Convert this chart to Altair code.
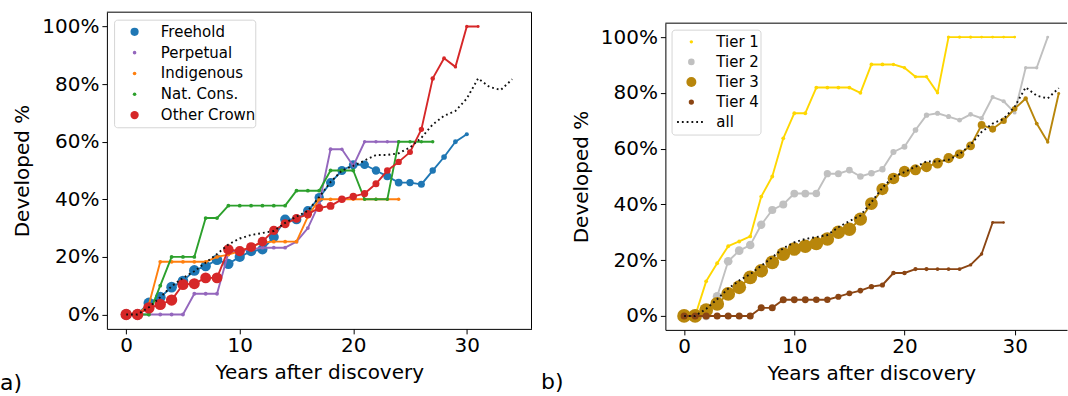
import altair as alt
import pandas as pd

# ---------------- data ----------------
LEFT_SERIES = ["Freehold", "Perpetual", "Indigenous", "Nat. Cons.", "Other Crown"]
RIGHT_SERIES = ["Tier 1", "Tier 2", "Tier 3", "Tier 4"]
ALL_LABEL = "all"
PANEL_LABELS = ["a)", "b)"]
X_TITLE = "Years after discovery"
Y_TITLE = "Developed %"
X_TICKS = [0, 10, 20, 30]
Y_TICKS = [0, 20, 40, 60, 80, 100]

# first year of each series, developed share (%), number of fields (marker size)
FREEHOLD_START = 0
FREEHOLD_PCT = [0, 0, 4, 6, 9.5, 11.6, 15.3, 16.8, 19, 17.6, 20, 22, 22.6, 26.9, 33, 33, 36,
                40.6, 45.8, 50, 52, 52, 50, 48, 45.8, 45.8, 45.2, 50, 54.7, 60, 62.6]
FREEHOLD_N = [40, 40, 40, 40, 39, 39, 39, 38, 38, 37, 36, 36, 35, 35, 34, 33, 32, 30, 29, 28,
              27, 26, 24, 22, 21, 19, 17, 14, 11, 8, 6]

PERPETUAL_START = 1
PERPETUAL_PCT = [0, 0, 0, 0, 0, 7.2, 7.2, 7.2, 21.4, 22.2, 22.6, 23.2, 23.2, 23.2, 25.3, 30,
                 38.5, 57.4, 57.4, 51.6, 60, 60, 60, 60]
PERPETUAL_N = [5, 5, 5, 5, 5, 5, 5, 5, 5, 5, 5, 5, 5, 5, 5, 5, 5, 5, 4, 4, 4, 4, 4, 4]

INDIGENOUS_START = 1
INDIGENOUS_PCT = [0, 3.5, 18.3, 18.3, 18.3, 18.3, 18.3, 20, 20.8, 22, 23.5, 25, 25.3, 25.3,
                  25.3, 34, 40, 40, 40, 40, 40, 40, 40, 40]
INDIGENOUS_N = [5, 5, 5, 5, 5, 5, 5, 5, 5, 5, 5, 5, 5, 5, 5, 5, 5, 5, 4, 4, 4, 4, 4, 4]

NATCONS_START = 1
NATCONS_PCT = [0, 0, 10, 20, 20, 20, 33.5, 33.5, 37.8, 37.8, 37.8, 37.8, 37.8, 37.8, 43, 43,
               43, 50, 50, 50, 40, 40, 40, 60, 60, 60, 60]
NATCONS_N = [5, 5, 5, 5, 5, 5, 5, 5, 5, 5, 5, 5, 5, 5, 5, 5, 5, 5, 5, 5, 4, 4, 4, 4, 4, 4, 4]

OTHER_START = 0
OTHER_PCT = [0, 0, 2.3, 3.5, 5, 10.4, 10.7, 12.7, 12.7, 22.6, 22, 23.4, 25.3, 29.2, 31.5, 33.4,
             34.8, 37, 37.7, 40, 41, 42, 45.4, 50, 53, 56.4, 64.3, 82, 89, 86, 100, 100]
OTHER_N = [45, 45, 45, 44, 44, 43, 42, 41, 40, 38, 36, 34, 32, 30, 28, 26, 24, 22, 21, 20, 19,
           18, 17, 15, 14, 12, 10, 7, 5, 4, 4, 3]

TIER1_START = 0
TIER1_PCT = [0, 0, 12.4, 18.9, 25, 26.7, 28.5, 42.8, 50, 63.7, 72.7, 72.7, 81.9, 81.9, 81.9,
             81.9, 80, 90.2, 90.2, 90.2, 89, 85.8, 85.8, 80, 100, 100, 100, 100, 100, 100, 100]
TIER1_N = [5, 5, 5, 5, 5, 5, 5, 5, 5, 5, 5, 5, 5, 5, 5, 5, 5, 5, 5, 4, 4, 4, 4, 4, 4, 4, 4,
           3, 3, 3, 3]

TIER2_START = 0
TIER2_PCT = [0, 0, 0, 7, 19.6, 23.4, 25.4, 32.7, 38, 40, 43.9, 43.9, 43.9, 51, 51, 52.3, 50,
             51.2, 52.6, 58.8, 60.7, 66.7, 72, 72.7, 71.5, 70.2, 72.3, 70.9, 78.5, 77, 72.9,
             89, 89, 100]
TIER2_N = [27, 27, 27, 27, 26, 26, 25, 24, 23, 22, 21, 21, 20, 18, 17, 16, 15, 15, 14, 13, 12,
           11, 10, 9, 9, 8, 8, 7, 6, 6, 5, 4, 4, 3]

TIER3_START = 0
TIER3_PCT = [0, 0, 2.1, 4.3, 7.9, 10.3, 13.8, 16.2, 19.2, 22.2, 24, 25, 26, 27.6, 30, 31.1,
             34.7, 40.3, 45.5, 49.3, 51.8, 52.4, 53.5, 54.8, 56.6, 58, 61, 68.5, 67, 70, 74.3,
             78, 69, 62.4, 79.8]
TIER3_N = [66, 66, 66, 66, 66, 66, 66, 65, 65, 65, 65, 64, 64, 64, 63, 63, 60, 56, 51, 47, 44,
           42, 40, 39, 36, 32, 27, 21, 17, 14, 11, 7, 5, 4, 3]

TIER4_START = 0
TIER4_PCT = [0, 0, 0, 0, 0, 0, 0, 2.9, 2.9, 5.8, 5.8, 5.8, 5.8, 5.8, 6.9, 8.1, 9.1, 10.5,
             11.1, 15.4, 15.4, 16.8, 16.8, 16.8, 16.8, 16.8, 18.3, 22.2, 33.5, 33.5]
TIER4_N = [17, 17, 17, 17, 17, 17, 17, 17, 17, 17, 16, 16, 15, 14, 13, 12, 11, 10, 9, 7, 7, 6,
           6, 5, 5, 5, 4, 4, 3, 2]

ALL_START = 0
ALL_PCT = [0, 0, 2.5, 6, 9.8, 12.7, 15, 18, 21, 24.3, 26.4, 27.6, 28.3, 29, 31.8, 34, 36,
           40.8, 46, 50, 51.6, 53.5, 55.4, 55.4, 56, 58, 61.4, 66, 69, 70.7, 75, 82, 79, 78,
           81.7]

# ---------------- styles ----------------
COLORS = {
    "Freehold": "#1f77b4", "Perpetual": "#9467bd", "Indigenous": "#ff7f0e",
    "Nat. Cons.": "#2ca02c", "Other Crown": "#d62728",
    "Tier 1": "#FFD700", "Tier 2": "#C0C0C0", "Tier 3": "#B8860B", "Tier 4": "#8B4513",
}
FONT = "DejaVu Sans"
SIZE_DOMAIN = [0, 100]
SIZE_RANGE = [0, 290]
SIZE_SCALE = alt.Scale(type="linear", domain=SIZE_DOMAIN, range=SIZE_RANGE, zero=True)
LINE_W = 1.9


def frame(start, pct, n=None):
    d = {"year": list(range(start, start + len(pct))), "pct": pct}
    if n is not None:
        d["n"] = n
    return pd.DataFrame(d)


ONE = pd.DataFrame({"k": [0]})

LEFT_DATA = [
    ("Freehold", frame(FREEHOLD_START, FREEHOLD_PCT, FREEHOLD_N)),
    ("Perpetual", frame(PERPETUAL_START, PERPETUAL_PCT, PERPETUAL_N)),
    ("Indigenous", frame(INDIGENOUS_START, INDIGENOUS_PCT, INDIGENOUS_N)),
    ("Nat. Cons.", frame(NATCONS_START, NATCONS_PCT, NATCONS_N)),
    ("Other Crown", frame(OTHER_START, OTHER_PCT, OTHER_N)),
]
RIGHT_DATA = [
    ("Tier 1", frame(TIER1_START, TIER1_PCT, TIER1_N)),
    ("Tier 2", frame(TIER2_START, TIER2_PCT, TIER2_N)),
    ("Tier 3", frame(TIER3_START, TIER3_PCT, TIER3_N)),
    ("Tier 4", frame(TIER4_START, TIER4_PCT, TIER4_N)),
]
ALL_DF = frame(ALL_START, ALL_PCT)


def legend_area(df):
    # matplotlib scatter legend: mean of largest and smallest marker
    mid = (df["n"].max() + df["n"].min()) / 2.0
    return SIZE_RANGE[1] * mid / SIZE_DOMAIN[1]


def panel(series, W, H, y_top, xdom, lg, label, label_x, label_y, title_x, with_all_legend):
    X = alt.X("year:Q", scale=alt.Scale(domain=xdom, nice=False, zero=False),
              axis=alt.Axis(values=X_TICKS, title=X_TITLE, grid=False, tickSize=5,
                            labelPadding=2, titlePadding=7, titleX=title_x))
    Y = alt.Y("pct:Q", scale=alt.Scale(domain=[-5, 105], range=[H, y_top], nice=False,
                                       zero=False),
              axis=alt.Axis(values=Y_TICKS, labelExpr="datum.value + '%'", title=Y_TITLE,
                            grid=False, tickSize=5, labelPadding=3, titlePadding=9))
    layers = []
    for name, df in series:
        base = alt.Chart(df)
        layers.append(base.mark_line(color=COLORS[name], strokeWidth=LINE_W,
                                     strokeJoin="round").encode(x=X, y=Y))
        layers.append(base.mark_circle(color=COLORS[name], opacity=1).encode(
            x=X, y=Y, size=alt.Size("n:Q", scale=SIZE_SCALE, legend=None)))
    layers.append(alt.Chart(ALL_DF).mark_line(color="#111111", strokeDash=[1.8, 3],
                                              strokeWidth=1.9).encode(x=X, y=Y))
    # frame (top and right borders)
    fr = alt.Chart(ONE)
    layers.append(fr.mark_rule(color="black", strokeWidth=1).encode(
        x=alt.value(0), x2=alt.value(W), y=alt.value(y_top)))
    if not with_all_legend:
        layers.append(fr.mark_rule(color="black", strokeWidth=1).encode(
            x=alt.value(W), y=alt.value(y_top), y2=alt.value(H)))
    layers.append(fr.mark_text(align="left", baseline="alphabetic", fontSize=22,
                               color="black").encode(
        x=alt.value(label_x), y=alt.value(label_y), text=alt.value(label)))
    main = alt.layer(*layers)

    # legend
    names = [s for s, _ in series]
    areas = [legend_area(df) for _, df in series]
    sym_df = pd.DataFrame({"label": names, "row": list(range(len(names))),
                           "color": [COLORS[s] for s in names], "area": areas})
    lab_names = names + ([ALL_LABEL] if with_all_legend else [])
    lab_df = pd.DataFrame({"label": lab_names, "row": list(range(len(lab_names)))})
    nrow = len(lab_names)
    LY = alt.Y("row:Q", scale=alt.Scale(domain=[0, nrow - 1], range=[lg["y0"], lg["y1"]],
                                        nice=False, zero=False), axis=None)
    leg = [
        alt.Chart(ONE).mark_rect(fill="white", fillOpacity=0.8, stroke="#d5d5d5",
                                 strokeWidth=1, cornerRadius=3).encode(
            x=alt.value(lg["bx0"]), x2=alt.value(lg["bx1"]),
            y=alt.value(lg["by0"]), y2=alt.value(lg["by1"])),
        alt.Chart(sym_df).mark_circle(opacity=1).encode(
            x=alt.value(lg["sx"]), y=LY, color=alt.Color("color:N", scale=None),
            size=alt.Size("area:Q", scale=None)),
        alt.Chart(lab_df).mark_text(align="left", baseline="middle", fontSize=15,
                                    color="black").encode(
            x=alt.value(lg["tx"]), y=LY, text="label:N"),
    ]
    if with_all_legend:
        leg.append(alt.Chart(pd.DataFrame({"row": [nrow - 1]})).mark_rule(
            color="#111111", strokeDash=[1.8, 3], strokeWidth=1.9).encode(
            x=alt.value(lg["ax0"]), x2=alt.value(lg["ax1"]), y=LY))
    legend = alt.layer(*leg)
    return alt.layer(main, legend).resolve_scale(y="independent").properties(width=W, height=H)


# both panels share the same group origin (y = 11 px); the right plot area starts 11 px lower
left = panel(LEFT_DATA, 425, 317, 0, [-1.7, 35.7],
             dict(y0=19.7, y1=103, bx0=7.7, bx1=149, by0=8, by1=115.7, sx=27.7, tx=54),
             PANEL_LABELS[0], -107, 378, 212.5, False)
right = panel(RIGHT_DATA, 402, 318, 11, [-1.7, 34.75],
              dict(y0=29.7, y1=110, bx0=6.7, bx1=95.7, by0=18, by1=123, sx=26, tx=51,
                   ax0=11.7, ax1=40),
              PANEL_LABELS[1], -124.5, 377, 206, True)

chart = alt.hconcat(left, right, spacing=8).properties(
    padding={"left": 0, "top": 11, "right": 0, "bottom": 0}
).configure_view(strokeWidth=0).configure_axis(
    labelFont=FONT, titleFont=FONT, labelFontSize=20, titleFontSize=20,
    titleFontWeight="normal", labelColor="black", titleColor="black",
    tickColor="black", domainColor="black", domainWidth=1, tickWidth=1
).configure_text(font=FONT)

chart.save("out.html", embed_options={"renderer": "svg", "actions": False})
